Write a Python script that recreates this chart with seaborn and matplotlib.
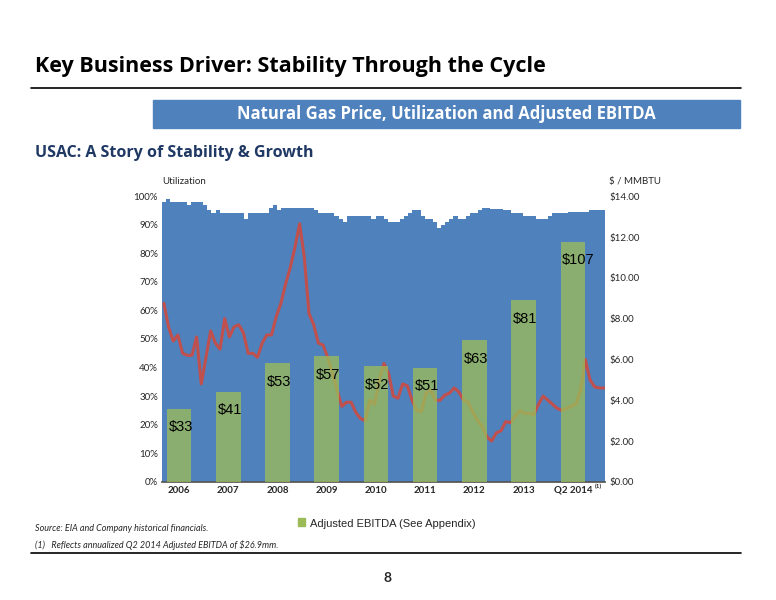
import numpy as np
import pandas as pd
import matplotlib
matplotlib.use("Agg")
import matplotlib.pyplot as plt
import seaborn as sns

sns.set_theme(style="white")
plt.rcParams['font.family'] = ['Lato', 'DejaVu Sans']

years = ["2006", "2007", "2008", "2009", "2010", "2011", "2012", "2013", "Q2 2014"]
ebitda_labels = ["$33", "$41", "$53", "$57", "$52", "$51", "$63", "$81", "$107"]
ebitda_heights = [25.5, 31.5, 41.5, 44, 40.5, 40, 49.5, 63.5, 84]

utilization = [98, 99, 98, 98, 98, 98, 97, 98, 98, 98, 97, 95,
               94, 95, 94, 94, 94, 94, 94, 94, 92, 94, 94, 94,
               94, 94, 96, 97, 95, 96, 96, 96, 96, 96, 96, 96,
               96, 95, 94, 94, 94, 94, 93, 92, 91, 93, 93, 93,
               93, 93, 93, 92, 93, 93, 92, 91, 91, 91, 92, 93,
               94, 95, 95, 93, 92, 92, 91, 89, 90, 91, 92, 93,
               92, 92, 93, 94, 94, 95, 96, 96, 95.5, 95.5, 95.5, 95,
               95, 94, 94, 94, 93, 93, 93, 92, 92, 92, 93, 94,
               94, 94, 94, 94.5, 94.5, 94.5, 94.5, 94.5, 95, 95, 95, 95]

gas_price = [8.75, 7.6, 6.9, 7.2, 6.3, 6.2, 6.2, 7.1, 4.8, 6.1, 7.4, 6.8, 6.5, 8.0, 7.1,
             7.6, 7.7, 7.3, 6.3, 6.3, 6.1, 6.8, 7.2, 7.2, 8.1, 8.75, 9.7, 10.5, 11.5, 12.65,
             11.0, 8.25, 7.7, 6.8, 6.7, 6.1, 5.3, 4.5, 3.7, 3.9, 3.9, 3.4, 3.1, 3.0, 4.0,
             3.8, 5.0, 5.8, 5.3, 4.2, 4.1, 4.8, 4.7, 4.0, 3.5, 3.45, 4.35, 4.5, 4.0, 4.0,
             4.25, 4.35, 4.6, 4.4, 4.0, 3.9, 3.4, 3.0, 2.7, 2.2, 2.0, 2.4, 2.5, 2.95, 2.9,
             3.2, 3.5, 3.35, 3.35, 3.3, 3.8, 4.2, 4.0, 3.8, 3.6, 3.5, 3.6, 3.7, 3.8, 4.5,
             6.0, 5.0, 4.65, 4.6, 4.6]

BLUE = "#4F81BD"
GREEN = "#9BBB59"
RED = "#C0504D"
NAVY = "#1F3864"

fig = plt.figure(figsize=(7.76, 6.0), dpi=100)

fig.text(0.045, 0.88, "Key Business Driver: Stability Through the Cycle", fontsize=15.5,
         fontweight="bold", color="black", family=["Open Sans", "DejaVu Sans"])
fig.add_artist(plt.Line2D([0.04, 0.955], [0.853, 0.853], color="black", lw=1.2))
fig.add_artist(plt.Rectangle((0.197, 0.787), 0.757, 0.047, color=BLUE))
fig.text(0.575, 0.810, "Natural Gas Price, Utilization and Adjusted EBITDA", ha="center",
         va="center", color="white", fontsize=12, fontweight="bold", family=["Open Sans", "DejaVu Sans"])
fig.text(0.045, 0.738, "USAC: A Story of Stability & Growth", fontsize=11.5, fontweight="bold",
         color=NAVY, family=["Open Sans", "DejaVu Sans"])

rect = [0.209, 0.197, 0.571, 0.476]
ax = fig.add_axes(rect)
ax2 = ax.twinx()
axb = ax.twinx()

n = len(utilization)
months = np.arange(n + 1)
util_ext = utilization + [utilization[-1]]
ax.fill_between(months, util_ext, step="post", color=BLUE, lw=0)
ax.set_xlim(0, n)
ax.set_ylim(0, 100)
ax.set_yticks(np.arange(0, 101, 10))
ax.set_yticklabels([f"{v}%" for v in range(0, 101, 10)], fontsize=7)

price_df = pd.DataFrame({"month": np.linspace(0.4, n - 0.3, len(gas_price)), "price": gas_price})
sns.lineplot(data=price_df, x="month", y="price", ax=ax2, color=RED, lw=2.2)
ax2.set_ylim(0, 14)
ax2.set_yticks(np.arange(0, 15, 2))
ax2.set_yticklabels([f"${v:.2f}" for v in range(0, 15, 2)], fontsize=7)
ax2.set_ylabel("")
ax2.set_xlabel("")

centers = np.arange(len(years)) * 12 + 4.1
axb.bar(centers, ebitda_heights, width=6.0, color=GREEN, alpha=0.78, lw=0)
axb.set_ylim(0, 100)
axb.set_yticks([])
for c, h, lab in zip(centers, ebitda_heights, ebitda_labels):
    axb.text(c - 2.6, h - 4, lab, fontsize=10.5, va="top", ha="left", color="black",
             family=["Liberation Sans", "DejaVu Sans"])

ax.set_xticks(centers)
ax.set_xticklabels(years, fontsize=7, fontweight="bold")
axb.set_xlim(0, n)
ax2.set_xlim(0, n)
fig.text(0.767, 0.186, "(1)", fontsize=4.5, fontweight="bold")
for a in (ax, ax2, axb):
    for s in a.spines.values():
        s.set_visible(False)
    a.grid(False)
ax.spines["bottom"].set_visible(True)
ax.spines["bottom"].set_color("#555555")
ax.tick_params(axis="both", length=0, pad=3)
ax2.tick_params(axis="y", length=0, pad=3)

fig.text(0.209, 0.693, "Utilization", fontsize=7)
fig.text(0.785, 0.693, "$ / MMBTU", fontsize=7)

fig.add_artist(plt.Rectangle((0.384, 0.124), 0.009, 0.012, color=GREEN))
fig.text(0.4, 0.122, "Adjusted EBITDA (See Appendix)", fontsize=8,
         family=["Liberation Sans", "DejaVu Sans"])

fig.text(0.045, 0.115, "Source: EIA and Company historical financials.", fontsize=6.5, style="italic")
fig.text(0.045, 0.086, "(1)   Reflects annualized Q2 2014 Adjusted EBITDA of $26.9mm.", fontsize=6.5,
         style="italic")
fig.add_artist(plt.Line2D([0.04, 0.955], [0.078, 0.078], color="black", lw=1.2))
fig.text(0.5, 0.03, "8", ha="center", fontsize=10, fontweight="bold")

fig.savefig("out.png", dpi=100)
